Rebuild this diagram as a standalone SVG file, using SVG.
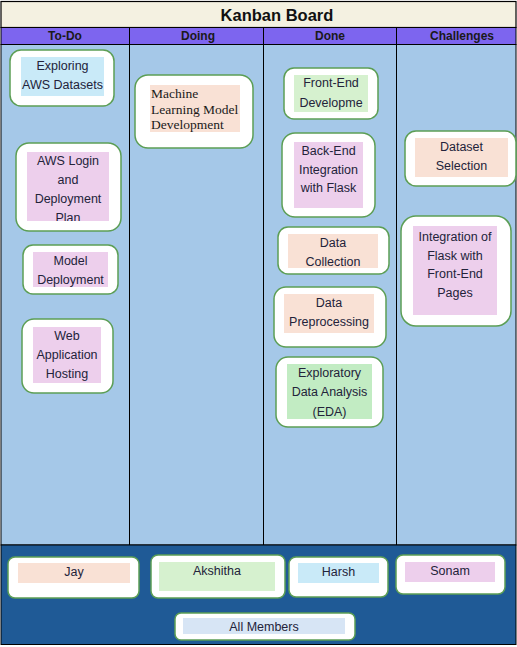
<svg xmlns="http://www.w3.org/2000/svg" width="517" height="647" viewBox="0 0 517 647">
<style>
.card{fill:#ffffff;stroke:#5c9e55;stroke-width:1.5}
.lb{fill:#c9eaf8}.pk{fill:#edcfec}.pc{fill:#f9e1d5}.gr{fill:#d6f1cf}.gr2{fill:#c2ecc3}.ab{fill:#d7e5f5}
text{font-family:"Liberation Sans",Arial,sans-serif;font-size:12.5px;fill:#23233a;text-anchor:middle;dominant-baseline:central}
.hd{font-weight:bold;font-size:12px;fill:#1a1a1a}
.tt{font-weight:bold;font-size:16.5px;fill:#111}
.sf{font-family:"Liberation Serif","Times New Roman",serif;font-size:13.5px;text-anchor:start;fill:#1a1a1a}
</style>
<rect x="0" y="0" width="517" height="647" fill="#ffffff"/>
<g id="board">
<rect x="1" y="1.5" width="515" height="26" fill="#f4f1e1" stroke="#000" stroke-width="1.2"/>
<text class="tt" x="277" y="14.5">Kanban Board</text>
<rect x="1" y="27.5" width="515" height="17" fill="#7d65ef" stroke="#000" stroke-width="1"/>
<rect x="1" y="44.5" width="515" height="500.5" fill="#a5c8e8" stroke="#000" stroke-width="1"/>
<rect x="1" y="545" width="515" height="99.5" fill="#1f5a96" stroke="#000" stroke-width="1"/>
<line x1="129.5" y1="27.5" x2="129.5" y2="545" stroke="#000" stroke-width="1"/>
<line x1="263.5" y1="27.5" x2="263.5" y2="545" stroke="#000" stroke-width="1"/>
<line x1="396.5" y1="27.5" x2="396.5" y2="545" stroke="#000" stroke-width="1"/>
<text class="hd" x="65" y="36">To-Do</text>
<text class="hd" x="198" y="36">Doing</text>
<text class="hd" x="330" y="36">Done</text>
<text class="hd" x="462" y="36">Challenges</text>
</g>
<g id="connectors"/>
<g id="todo-1">
<rect class="card" x="10" y="50" width="104" height="56" rx="11"/>
<rect class="lb" x="21" y="57" width="83" height="39"/>
<text x="62.5" y="66">Exploring</text><text x="62.5" y="85">AWS Datasets</text>
</g>
<g id="todo-2">
<rect class="card" x="16" y="143" width="105" height="88" rx="13"/>
<rect class="pk" x="27" y="152" width="82" height="69"/>
<svg x="27" y="152" width="82" height="69" overflow="hidden">
<text x="41" y="9">AWS Login</text><text x="41" y="28">and</text><text x="41" y="47">Deployment</text><text x="41" y="66">Plan</text>
</svg>
</g>
<g id="todo-3">
<rect class="card" x="23" y="245" width="95" height="49" rx="10"/>
<rect class="pk" x="33" y="252" width="75" height="35"/>
<text x="70.5" y="261">Model</text><text x="70.5" y="280">Deployment</text>
</g>
<g id="todo-4">
<rect class="card" x="22" y="319" width="91" height="74" rx="12"/>
<rect class="pk" x="33" y="327" width="68" height="56"/>
<text x="67" y="336">Web</text><text x="67" y="355">Application</text><text x="67" y="374">Hosting</text>
</g>
<g id="doing-1">
<rect class="card" x="135" y="75" width="118" height="73" rx="13"/>
<rect class="pc" x="150" y="85" width="90" height="47"/>
<text class="sf" x="151" y="93.5">Machine</text><text class="sf" x="151" y="109.5">Learning Model</text><text class="sf" x="151" y="124.5">Development</text>
</g>
<g id="done-1">
<rect class="card" x="284" y="68" width="94" height="51" rx="10"/>
<rect class="gr" x="294" y="75" width="74" height="37"/>
<text x="331" y="83">Front-End</text><text x="331" y="103">Developme</text>
</g>
<g id="done-2">
<rect class="card" x="282" y="133" width="93" height="84" rx="13"/>
<rect class="pk" x="294" y="142" width="69" height="66"/>
<text x="328.5" y="151">Back-End</text><text x="328.5" y="170">Integration</text><text x="328.5" y="188">with Flask</text>
</g>
<g id="done-3">
<rect class="card" x="278" y="227" width="111" height="47" rx="10"/>
<rect class="pc" x="288" y="234" width="90" height="34"/>
<text x="333" y="243">Data</text><text x="333" y="262">Collection</text>
</g>
<g id="done-4">
<rect class="card" x="274" y="287" width="112" height="60" rx="12"/>
<rect class="pc" x="284" y="294" width="90" height="39"/>
<text x="329" y="303">Data</text><text x="329" y="322">Preprocessing</text>
</g>
<g id="done-5">
<rect class="card" x="276" y="357" width="107" height="70" rx="12"/>
<rect class="gr2" x="287" y="364" width="85" height="55"/>
<text x="329.5" y="373">Exploratory</text><text x="329.5" y="392">Data Analysis</text><text x="329.5" y="412">(EDA)</text>
</g>
<g id="challenge-1">
<rect class="card" x="405" y="131" width="111" height="55" rx="11"/>
<rect class="pc" x="415" y="138" width="93" height="39"/>
<text x="461.5" y="147">Dataset</text><text x="461.5" y="166">Selection</text>
</g>
<g id="challenge-2">
<rect class="card" x="401" y="216" width="110" height="110" rx="15"/>
<rect class="pk" x="413" y="226" width="84" height="89"/>
<text x="455" y="237">Integration of</text><text x="455" y="256">Flask with</text><text x="455" y="274">Front-End</text><text x="455" y="293">Pages</text>
</g>
<g id="member-jay">
<rect class="card" x="8" y="557" width="131" height="41" rx="7"/>
<rect class="pc" x="18" y="563" width="112" height="20"/>
<text x="74" y="572">Jay</text>
</g>
<g id="member-akshitha">
<rect class="card" x="151" y="555" width="134" height="43" rx="7"/>
<rect class="gr" x="159" y="562" width="116" height="29"/>
<text x="217" y="571">Akshitha</text>
</g>
<g id="member-harsh">
<rect class="card" x="289" y="557" width="99" height="40" rx="7"/>
<rect class="lb" x="298" y="563" width="81" height="20"/>
<text x="338.5" y="572">Harsh</text>
</g>
<g id="member-sonam">
<rect class="card" x="396" y="555" width="109" height="39" rx="7"/>
<rect class="pk" x="405" y="562" width="90" height="20"/>
<text x="450" y="571">Sonam</text>
</g>
<g id="member-all">
<rect class="card" x="175" y="613" width="180" height="27" rx="6"/>
<rect class="ab" x="183" y="618" width="162" height="16"/>
<text x="264" y="626.5">All Members</text>
</g>
</svg>
